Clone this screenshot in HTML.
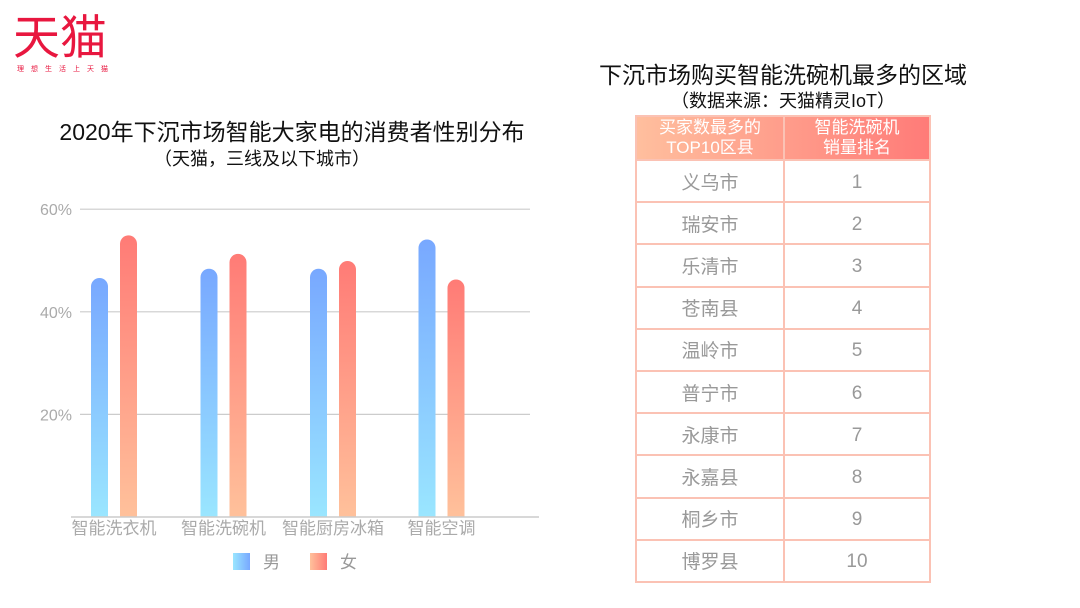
<!DOCTYPE html>
<html><head><meta charset="utf-8">
<style>
body{margin:0;width:1080px;height:608px;background:#fff;overflow:hidden;font-family:"Liberation Sans","Noto Sans CJK SC",sans-serif;position:relative}
.abs{position:absolute}
table{border-collapse:collapse;position:absolute;left:635px;top:115px;width:296px}
td{border:2px solid #fbc2b4;text-align:center;color:#999;font-size:19px;height:42.2px;padding:0;box-sizing:border-box}
th{border:2px solid #fbc2b4;color:#fff;font-weight:normal;font-size:17px;line-height:20px;height:42px;padding:0}
</style></head><body>
<div class="abs" style="left:13px;top:10px;color:#e8173f;font-size:47px;line-height:56px">天猫</div>
<div class="abs" style="left:17px;top:64px;color:#e8173f;font-size:7px;letter-spacing:7px">理想生活上天猫</div>
<div class="abs" style="left:0;width:584px;text-align:center;top:113px;font-size:23px;color:#111">2020年下沉市场智能大家电的消费者性别分布</div>
<div class="abs" style="left:0;width:524px;text-align:center;top:145px;font-size:18px;color:#111">（天猫，三线及以下城市）</div>
<div class="abs" style="left:558px;width:450px;text-align:center;top:56px;font-size:23px;color:#111">下沉市场购买智能洗碗机最多的区域</div>
<div class="abs" style="left:558px;width:450px;text-align:center;top:87px;font-size:18px;color:#111">（数据来源：天猫精灵IoT）</div>
<svg id="chart" class="abs" style="left:0;top:0" width="560" height="608">
<defs>
<linearGradient id="gm" x1="0" y1="0" x2="0" y2="1"><stop offset="0" stop-color="#78a8ff"/><stop offset="1" stop-color="#9ae6ff"/></linearGradient>
<linearGradient id="gf" x1="0" y1="0" x2="0" y2="1"><stop offset="0" stop-color="#ff7b76"/><stop offset="1" stop-color="#ffc19b"/></linearGradient>
<linearGradient id="lm" x1="0" y1="0" x2="1" y2="0"><stop offset="0" stop-color="#9ae6ff"/><stop offset="1" stop-color="#78a8ff"/></linearGradient>
<linearGradient id="lf" x1="0" y1="0" x2="1" y2="0"><stop offset="0" stop-color="#ffc19b"/><stop offset="1" stop-color="#ff7b76"/></linearGradient>
</defs>
</svg>
<table>
<tr style="background:linear-gradient(90deg,#ffbf9e,#ff7b78)"><th style="width:146px">买家数最多的<br>TOP10区县</th><th>智能洗碗机<br>销量排名</th></tr>
<tbody id="tb"></tbody>
</table>
<script>
const categories=["智能洗衣机","智能洗碗机","智能厨房冰箱","智能空调"];
const maleValues=[46.5,48.3,48.3,54];
const femaleValues=[54.8,51.2,49.8,46.2];
const yTicks=[20,40,60];
const counties=["义乌市","瑞安市","乐清市","苍南县","温岭市","普宁市","永康市","永嘉县","桐乡市","博罗县"];
const ranks=[1,2,3,4,5,6,7,8,9,10];

const ns="http://www.w3.org/2000/svg";
const svg=document.getElementById('chart');
const y=v=>517-v*5.13;
const gx=i=>91+i*109.5+(i==3?-1:0);
function mk(t,a){const e=document.createElementNS(ns,t);for(const k in a)e.setAttribute(k,a[k]);svg.appendChild(e);return e;}
yTicks.forEach(t=>{
 const l=mk('line',{x1:80,x2:530,y1:y(t),y2:y(t),stroke:'#ccc','stroke-width':1.2});
 
 
 const tx=mk('text',{x:72,y:y(t)+6,'text-anchor':'end','font-size':16,fill:'#aaa'});
 tx.textContent=t+'%';
 
 
});
function bar(x,v,fill,name){
 const w=17,r=8;
 const p=mk('path',{d:`M${x},517 V${y(v)+r} a${r},${r} 0 0 1 ${w},0 V517 Z`,fill:fill});
 
 
}
categories.forEach((c,i)=>{
 const x=gx(i);
 bar(x,maleValues[i],'url(#gm)','bar-male-'+i);
 bar(x+29,femaleValues[i],'url(#gf)','bar-female-'+i);
 const t=mk('text',{x:x+23,y:534,'text-anchor':'middle','font-size':17,fill:'#aaa'});
 t.textContent=c;
 
 
});
const ax=mk('line',{x1:71,x2:539,y1:517,y2:517,stroke:'#ccc','stroke-width':1.5});


[['lm','男',233,'legend-male'],['lf','女',310,'legend-female']].forEach(([g,t,x,n])=>{
 const r=mk('rect',{x:x,y:553,width:17,height:17,fill:'url(#'+g+')'});
 
 
 const tx=mk('text',{x:x+30,y:568,'font-size':17,fill:'#999'});
 tx.textContent=t;
 
 
});
const tb=document.getElementById('tb');
counties.forEach((c,i)=>{
 const tr=document.createElement('tr');
 
 
 tr.innerHTML='<td>'+c+'</td><td style="padding-top:3px">'+ranks[i]+'</td>';
 tb.appendChild(tr);
});
</script>
</body></html>
